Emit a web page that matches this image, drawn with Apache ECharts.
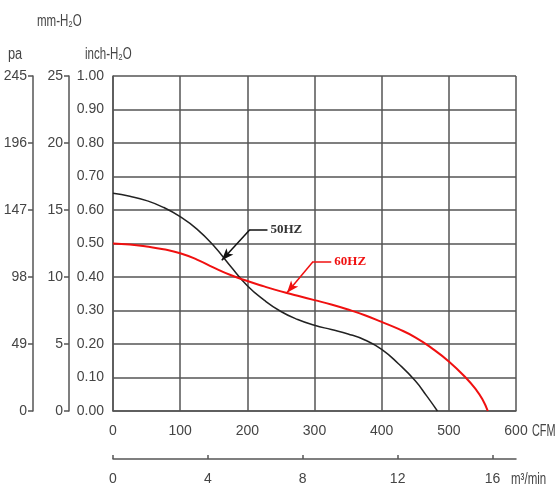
<!DOCTYPE html>
<html><head><meta charset="utf-8">
<script src="https://cdn.jsdelivr.net/npm/echarts@6/dist/echarts.min.js"></script>
<style>html,body{margin:0;padding:0;background:#fff}#c{width:557px;height:489px}</style>
</head><body><div id="c"></div>
<script>
// 50 Hz curve (CFM, inch-H2O)
const cfm50 = [0, 25, 50, 75, 100, 125, 150, 175, 200, 225, 250, 275, 300, 325, 350, 375, 400, 425, 450, 467, 483];
const p50   = [0.65, 0.641, 0.628, 0.608, 0.58, 0.543, 0.493, 0.432, 0.374, 0.331, 0.297, 0.273, 0.256, 0.243, 0.23, 0.212, 0.184, 0.141, 0.09, 0.045, 0];
// 60 Hz curve
const cfm60 = [0, 25, 50, 75, 100, 125, 150, 175, 200, 225, 250, 275, 300, 325, 350, 375, 400, 425, 450, 475, 500, 525, 540, 550, 558];
const p60   = [0.5, 0.497, 0.491, 0.483, 0.471, 0.452, 0.428, 0.406, 0.388, 0.372, 0.357, 0.344, 0.331, 0.318, 0.303, 0.286, 0.266, 0.245, 0.22, 0.187, 0.148, 0.1, 0.065, 0.035, 0];
// leader lines for the curve labels (tip, elbow, end)
const lead50 = [[162, 0.45], [204, 0.542], [230, 0.542]];
const lead60 = [[259, 0.353], [298, 0.446], [325, 0.446]];
const names = ['50HZ', '60HZ'];
// tick values
const cfmTicks = [0, 100, 200, 300, 400, 500, 600];
const m3Ticks = [0, 4, 8, 12, 16];
const inchTicks = [0, 0.1, 0.2, 0.3, 0.4, 0.5, 0.6, 0.7, 0.8, 0.9, 1.0];
const mmTicks = [0, 5, 10, 15, 20, 25];
const paTicks = [0, 49, 98, 147, 196, 245];

const FONT = "'Liberation Sans Narrow', 'Liberation Sans', sans-serif";
const FS = 14;
const TXT = '#444';
const GRID = '#555';

function leaderLines(lead, name, color) {
  return [
    [{coord: lead[0], symbol: 'arrow', symbolSize: [7, 12]}, {coord: lead[1], symbol: 'none'}],
    [{coord: lead[1], symbol: 'none'},
     {coord: lead[2], symbol: 'none',
      label: {show: true, position: 'end', distance: 3, formatter: name, color: color,
              fontFamily: "'Liberation Serif', 'DejaVu Serif', serif", fontWeight: 'bold', fontSize: 13}}]
  ];
}
function title(text, x, y, sx) {
  return {type: 'text', x: x, y: y, scaleX: sx, scaleY: 1,
          style: {text: text, fill: TXT, font: '16px ' + FONT, textVerticalAlign: 'middle'}};
}

const chart = echarts.init(document.getElementById('c'));
chart.setOption({
  animation: false,
  backgroundColor: '#fff',
  grid: {left: 113, top: 76, right: 41, bottom: 78, containLabel: false},
  xAxis: [
    {type: 'value', min: 0, max: 600, interval: 100,
     axisLine: {show: true, onZero: false, lineStyle: {color: GRID, width: 1.5}},
     axisTick: {show: false},
     splitLine: {show: true, lineStyle: {color: GRID, width: 1.5}},
     axisLabel: {margin: 13, color: TXT, fontFamily: FONT, fontSize: FS, customValues: cfmTicks}},
    {type: 'value', position: 'bottom', offset: 48, min: 0, max: 600 * 0.0283168,
     axisLine: {show: true, onZero: false, lineStyle: {color: GRID, width: 1.5}},
     axisTick: {show: true, inside: true, length: 4, customValues: m3Ticks, lineStyle: {color: GRID, width: 1.5}},
     splitLine: {show: false},
     axisLabel: {margin: 13, color: TXT, fontFamily: FONT, fontSize: FS, customValues: m3Ticks}}
  ],
  yAxis: [
    {type: 'value', min: 0, max: 1, interval: 0.1,
     axisLine: {show: true, onZero: false, lineStyle: {color: GRID, width: 1.5}},
     axisTick: {show: false},
     splitLine: {show: true, lineStyle: {color: GRID, width: 1.5}},
     axisLabel: {margin: 9, color: TXT, fontFamily: FONT, fontSize: FS,
                 customValues: inchTicks, formatter: v => v.toFixed(2)}},
    {type: 'value', position: 'left', offset: 44, min: 0, max: 25, interval: 5,
     axisLine: {show: true, onZero: false, lineStyle: {color: GRID, width: 1.5}},
     axisTick: {show: true, length: 5, lineStyle: {color: GRID, width: 1.5}},
     splitLine: {show: false},
     axisLabel: {margin: 6, color: TXT, fontFamily: FONT, fontSize: FS, customValues: mmTicks}},
    {type: 'value', position: 'left', offset: 80, min: 0, max: 245, interval: 49,
     axisLine: {show: true, onZero: false, lineStyle: {color: GRID, width: 1.5}},
     axisTick: {show: true, length: 5, lineStyle: {color: GRID, width: 1.5}},
     splitLine: {show: false},
     axisLabel: {margin: 6, color: TXT, fontFamily: FONT, fontSize: FS, customValues: paTicks}}
  ],
  series: [
    {name: names[0], type: 'line', xAxisIndex: 0, yAxisIndex: 0, smooth: 0.5, showSymbol: false,
     data: cfm50.map((x, i) => [x, p50[i]]),
     lineStyle: {color: '#222', width: 1.5},
     markLine: {silent: true, animation: false, symbol: 'none',
       lineStyle: {color: '#111', width: 1.5, type: 'solid'},
       label: {show: false},
       data: leaderLines(lead50, names[0], '#333')}},
    {name: names[1], type: 'line', xAxisIndex: 0, yAxisIndex: 0, smooth: 0.5, showSymbol: false,
     data: cfm60.map((x, i) => [x, p60[i]]),
     lineStyle: {color: '#f01010', width: 2},
     markLine: {silent: true, animation: false, symbol: 'none',
       lineStyle: {color: '#f01010', width: 1.5, type: 'solid'},
       label: {show: false},
       data: leaderLines(lead60, names[1], '#f01010')}}
  ],
  graphic: [
    title('mm-H₂O', 37, 22, 0.72),
    title('pa', 8, 55, 0.8),
    title('inch-H₂O', 85, 55, 0.72),
    title('CFM', 532, 432, 0.68),
    title('m³/min', 511, 480, 0.72)
  ]
});
</script></body></html>
